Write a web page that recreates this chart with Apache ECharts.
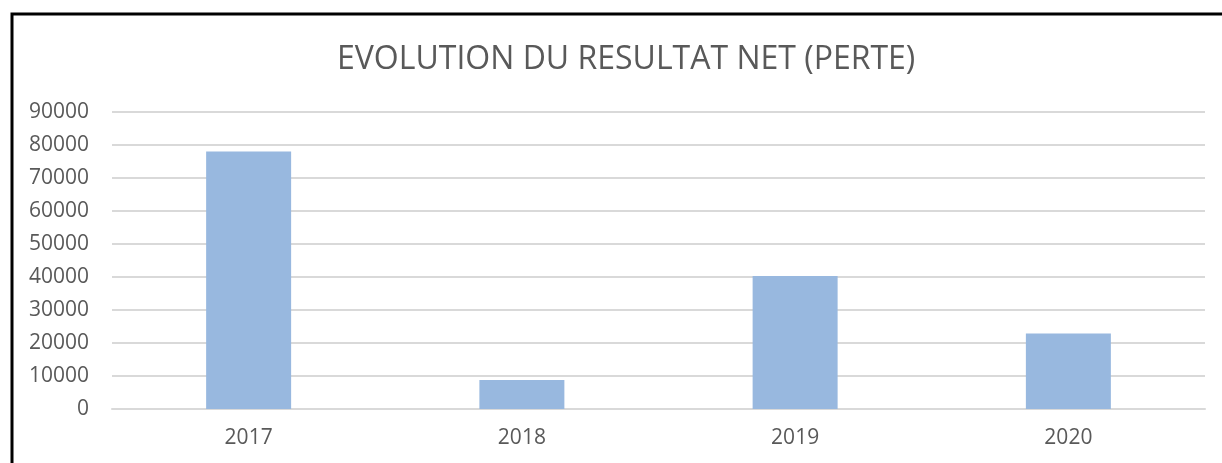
<!DOCTYPE html>
<html>
<head>
<meta charset="utf-8">
<script src="https://cdn.jsdelivr.net/npm/echarts@6/dist/echarts.min.js"></script>
<style>
  html, body { margin: 0; padding: 0; background: #fff; }
  #mainChart { width: 1222px; height: 463px; }
</style>
</head>
<body>
<div id="mainChart"></div>
<script>
// données
var years = ['2017', '2018', '2019', '2020'];
var perte = [78000, 8800, 40300, 22900];
var yTicks = [0, 10000, 20000, 30000, 40000, 50000, 60000, 70000, 80000, 90000];

var myChart = echarts.init(document.getElementById('mainChart'));

myChart.setOption({
    backgroundColor: '#fff',
    animation: false,
    textStyle: { fontFamily: 'Open Sans' },
    title: {
        text: 'EVOLUTION DU RESULTAT NET (PERTE)',
        left: 332,
        top: 39,
        textStyle: { fontSize: 32, fontWeight: 'normal', color: '#595959', fontFamily: 'Open Sans' }
    },
    graphic: [{
        type: 'rect',
        shape: { x: 12, y: 14, width: 1400, height: 700 },
        style: { fill: 'none', stroke: '#000', lineWidth: 3 },
        silent: true
    }],
    grid: { left: 112, right: 17, top: 112, bottom: 54, containLabel: false },
    xAxis: {
        type: 'category',
        data: years,
        axisLine: { lineStyle: { color: '#d9d9d9', width: 2 } },
        axisTick: { show: false },
        axisLabel: { color: '#595959', fontSize: 21, margin: 19 }
    },
    yAxis: {
        type: 'value',
        min: yTicks[0],
        max: yTicks[yTicks.length - 1],
        interval: 10000,
        axisLine: { show: false },
        axisTick: { show: false },
        splitLine: { lineStyle: { color: '#d9d9d9', width: 2 } },
        axisLabel: {
            color: '#595959',
            fontSize: 21,
            margin: 23,
            formatter: function (v) { return String(v); }
        }
    },
    series: [{
        name: 'Perte',
        type: 'bar',
        data: perte,
        barWidth: 85,
        itemStyle: { color: '#98b8df' }
    }]
});
</script>
</body>
</html>
